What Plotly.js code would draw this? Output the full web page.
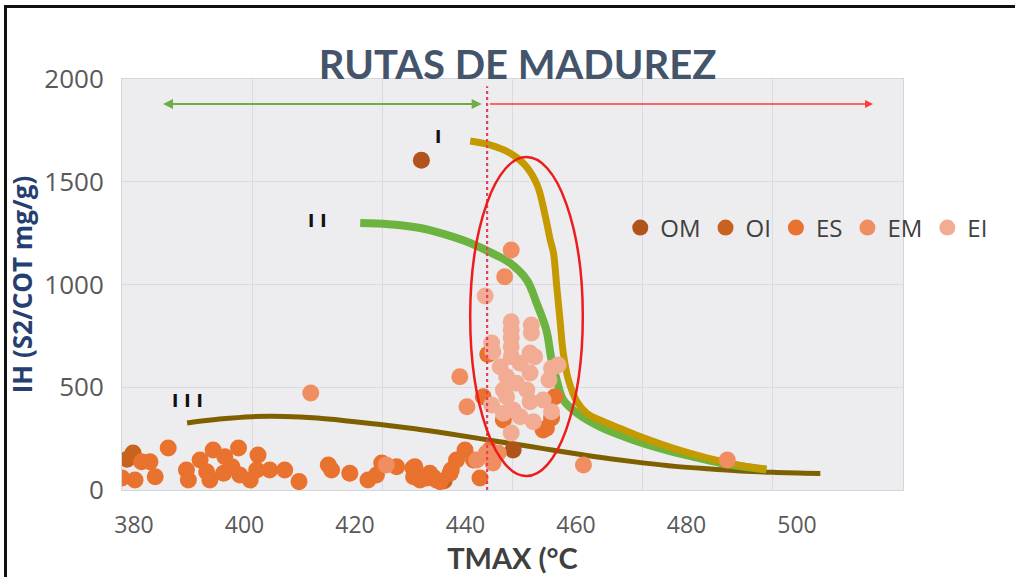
<!DOCTYPE html>
<html>
<head>
<meta charset="utf-8">
<script src="https://cdn.plot.ly/plotly-3.0.1.min.js"></script>
<style>
  html, body { margin: 0; padding: 0; background: #ffffff; }
  #wrap { position: relative; width: 1015px; height: 577px; }
  #chart { width: 1015px; height: 577px; }
  #frame { position: absolute; left: 4px; top: 5px; width: 1011px; height: 580px;
           border-left: 3px solid #111; border-top: 3px solid #111;
           pointer-events: none; box-sizing: border-box; }
</style>
</head>
<body>
<div id="wrap">
  <div id="chart"></div>
  <div id="frame"></div>
</div>
<script>
// ---- Data ----
const seriesNames = ["OM", "OI", "ES", "EM", "EI"];

const omX = [426.0, 440.1];
const omY = [1605, 195];

const oiX = [381.7, 380.8, 429.5, 427.8];
const oiY = [180, 150, 45, 62];

const esX = [380.0, 382.0, 383.0, 384.3, 385.1, 387.1, 389.9, 390.2, 392.0, 393.0, 394.0, 393.5, 395.8, 395.6,
             397.9, 396.9, 398.1, 399.7, 400.9, 400.7, 402.7, 405.0, 407.2, 411.7, 412.2, 415.0, 417.8, 419.9,
             419.1, 422.2, 424.7, 425.0, 424.8, 425.8, 426.8, 427.3, 428.3, 428.9, 430.4, 430.6, 431.4, 432.7,
             434.0, 435.0, 436.5, 435.5, 446.5, 446.0, 445.2, 444.7, 438.6, 436.2];
const esY = [58, 49, 138, 138, 65, 204, 97, 49, 146, 89, 195, 49, 162, 82,
             204, 113, 73, 49, 170, 97, 97, 97, 41, 122, 97, 82, 49, 131,
             73, 113, 107, 113, 65, 49, 58, 82, 49, 41, 82, 97, 146, 195,
             146, 58, 195, 454, 454, 350, 301, 292, 341, 660];

const emX = [439.8, 438.8, 450.9, 473.0, 409.0, 420.6, 437.8, 434.5, 436.0, 437.0, 431.9, 433.0];
const emY = [1168, 1038, 122, 146, 472, 122, 180, 146, 180, 131, 551, 405];

const eiX = [435.8, 439.8, 442.9, 442.9, 439.8, 439.8, 436.8, 439.8, 437.0, 439.8, 442.7, 443.4, 447.0, 446.0,
             438.1, 441.2, 442.7, 439.1, 440.6, 445.6, 438.6, 442.2, 439.1, 444.7, 442.7, 436.8, 440.1, 438.6,
             446.0, 441.2, 443.2, 439.8];
const eiY = [944, 819, 803, 764, 778, 740, 715, 697, 673, 649, 667, 649, 608, 592,
             600, 617, 569, 551, 520, 535, 487, 487, 454, 438, 430, 414, 389, 374,
             381, 357, 332, 277];

// Maturation paths (kerogen type I, II, III)
const curveIX = [433.5, 436.5, 439.6, 441.9, 443.8, 445.0, 445.8, 446.3, 446.8, 447.3, 447.8, 448.6, 449.9, 451.4,
                 453.4, 456.5, 460.0, 465.0, 470.0, 475.0, 479.0];
const curveIY = [1698, 1679, 1640, 1582, 1484, 1338, 1217, 1153, 989, 827, 667, 535, 430, 374,
                 341, 300, 255, 200, 155, 120, 100];

const curveIIX = [416.6, 421.0, 425.8, 429.5, 433.5, 437.0, 439.6, 442.2, 443.7, 445.2, 446.0, 446.8, 447.8, 449.9,
                  453.4, 458.0, 463.0, 468.0, 473.0, 479.0];
const curveIIY = [1299, 1293, 1275, 1245, 1202, 1150, 1105, 1022, 910, 779, 633, 535, 438, 374,
                  308, 250, 200, 160, 125, 100];

const curveIIIX = [390, 395, 400, 405, 410, 415, 420, 425, 430, 435, 440, 445, 450, 455, 460, 465, 470, 475, 480, 487.3];
const curveIIIY = [326, 345, 357, 358, 350, 335, 318, 298, 275, 250, 225, 200, 175, 152, 132, 115, 103, 93, 86, 80];

const curveLabels = ["I", "I I", "I I I"];
const curveLabelX = [428.6, 410.0, 390.0];
const curveLabelY = [1718, 1309, 433];

const xTicks = [380, 400, 420, 440, 460, 480, 500];
const yTicks = [0, 500, 1000, 1500, 2000];

const tmaxLimit = 436.1;               // red dotted boundary
const immatureArrow = [386.3, 435.5];  // green double arrow span
const matureArrow = [436.3, 495.4];    // red arrow span
const arrowLevel = 1878;
const ellipseX = [433.5, 450.8];
const ellipseY = [68, 1620];

// ---- Styles ----
const colors = {OM: "#B0541C", OI: "#C8621F", ES: "#E8722E", EM: "#F08E62", EI: "#F3AC94"};
const sx = {OM: omX, OI: oiX, ES: esX, EM: emX, EI: eiX};
const sy = {OM: omY, OI: oiY, ES: esY, EM: emY, EI: eiY};

const traces = [];
traces.push({x: curveIIIX, y: curveIIIY, mode: "lines", line: {color: "#7F6000", width: 5, shape: "spline"},
             showlegend: false, hoverinfo: "skip"});
traces.push({x: curveIIX, y: curveIIY, mode: "lines", line: {color: "#6DB33F", width: 8, shape: "spline"},
             showlegend: false, hoverinfo: "skip"});
traces.push({x: curveIX, y: curveIY, mode: "lines", line: {color: "#C59A00", width: 7, shape: "spline"},
             showlegend: false, hoverinfo: "skip"});

seriesNames.forEach(n => {
  traces.push({x: sx[n], y: sy[n], name: n, mode: "markers", type: "scatter",
               marker: {color: colors[n], size: 17, line: {width: 0}}});
});
// empty trace carrying the axis that shows the tick labels as placed in the picture
traces.push({x: [], y: [], xaxis: "x2", showlegend: false, hoverinfo: "skip"});

const annotations = curveLabels.map((t, i) => ({
  x: curveLabelX[i], y: curveLabelY[i], text: "<b>" + t + "</b>", showarrow: false,
  font: {family: "DejaVu Sans, sans-serif", size: 17, color: "#111"}
}));
annotations.push({x: immatureArrow[0], y: arrowLevel, ax: immatureArrow[1], ay: arrowLevel,
  axref: "x", ayref: "y", xref: "x", yref: "y", text: "", showarrow: true,
  arrowhead: 2, arrowside: "end+start", arrowsize: 1, arrowwidth: 2, arrowcolor: "#70AD47"});
annotations.push({x: matureArrow[1], y: arrowLevel, ax: matureArrow[0], ay: arrowLevel,
  axref: "x", ayref: "y", xref: "x", yref: "y", text: "", showarrow: true,
  arrowhead: 2, arrowsize: 1, arrowwidth: 1.6, arrowcolor: "#FF3B3B"});

const layout = {
  width: 1015, height: 577,
  margin: {l: 122, r: 112, t: 79, b: 87},
  paper_bgcolor: "#FFFFFF",
  plot_bgcolor: "#EDEDEF",
  title: {text: "<b>RUTAS DE MADUREZ</b>", xref: "container", yref: "container", x: 0.51, y: 0.888,
          xanchor: "center", yanchor: "middle",
          font: {family: "Lato, sans-serif", size: 40, color: "#44546A"}},
  xaxis: {range: [380, 500], dtick: 20, tick0: 380, showgrid: true, gridcolor: "#D8DBE2", gridwidth: 1,
          showticklabels: false, zeroline: false, showline: true, linecolor: "#D3D6DD", mirror: true,
          ticks: ""},
  xaxis2: {overlaying: "x", side: "bottom", range: [377.83, 519.19], tickvals: xTicks,
           showgrid: false, zeroline: false, showline: false, ticks: "", ticklabelstandoff: 19,
           tickfont: {family: "Open Sans, sans-serif", size: 23, color: "#595959"},
           title: {text: "<b>TMAX (°C</b>", standoff: 0,
                   font: {family: "Lato, sans-serif", size: 29, color: "#404040"}}},
  yaxis: {range: [0, 2000], tickvals: yTicks, showgrid: true, gridcolor: "#D8DBE2", gridwidth: 1,
          zeroline: false, showline: true, linecolor: "#D3D6DD", mirror: true, ticks: "",
          ticklabelstandoff: 12, tickfont: {family: "Open Sans, sans-serif", size: 26, color: "#595959"},
          title: {text: "<b>IH (S2/COT mg/g)</b>", standoff: 4,
                  font: {family: "Open Sans, sans-serif", size: 26, color: "#243F70"}}},
  legend: {orientation: "h", x: 0.638, y: 0.6375, xanchor: "left", yanchor: "middle",
           bgcolor: "rgba(0,0,0,0)", font: {family: "Open Sans, sans-serif", size: 24, color: "#404040"}},
  shapes: [
    {type: "line", xref: "x", yref: "y", x0: tmaxLimit, x1: tmaxLimit, y0: 0, y1: 1965,
     line: {color: "#E4405A", width: 2.2, dash: "dot"}},
    {type: "circle", xref: "x", yref: "y", x0: ellipseX[0], x1: ellipseX[1], y0: ellipseY[0], y1: ellipseY[1],
     line: {color: "#EE1C1C", width: 2.5}, layer: "above"}
  ],
  annotations: annotations,
  showlegend: true
};

Plotly.newPlot("chart", traces, layout, {displayModeBar: false, staticPlot: true});
</script>
</body>
</html>
